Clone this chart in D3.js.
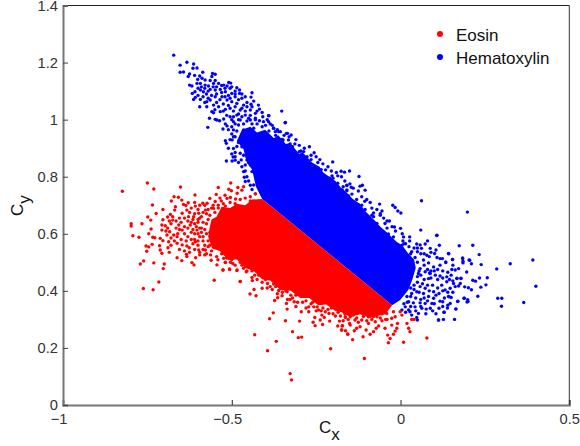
<!DOCTYPE html>
<html lang="en">
<head>
<meta charset="UTF-8">
<title>Eosin and Hematoxylin</title>
<script src="https://d3js.org/d3.v7.min.js"></script>
<style>
  body { margin: 0; background: #fff; }
  text { font-family: "Liberation Sans", Arial, sans-serif; }
</style>
</head>
<body>
<script>
var xTicks = [-1, -0.5, 0, 0.5];
var xTickLabels = ["\u22121", "\u22120.5", "0", "0.5"];
var yTicks = [0, 0.2, 0.4, 0.6, 0.8, 1, 1.2, 1.4];
var yTickLabels = ["0", "0.2", "0.4", "0.6", "0.8", "1", "1.2", "1.4"];
var seriesNames = ["Eosin", "Hematoxylin"];
var seriesColors = ["#ff0000", "#0000ff"];

// outline of the saturated part of each cloud, single dots can't be told apart in there
var hematoxylinCore = [[-.470,.965],[-.445,.975],[-.425,.955],[-.401,.965],[-.375,.935],[-.362,.945],[-.340,.915],[-.327,.918],[-.300,.880],[-.291,.887],[-.262,.850],[-.240,.835],[-.229,.815],[-.193,.785],[-.175,.760],[-.164,.750],[-.140,.720],[-.120,.705],[-.105,.680],[-.075,.645],[-.060,.625],[-.045,.610],[-.010,.570],[.005,.560],[.020,.535],[.040,.510],[.045,.480],[.035,.440],[.023,.403],[-.001,.368],[-.025,.350],[-.410,.722],[-.428,.764],[-.440,.825],[-.455,.850],[-.465,.895],[-.485,.925]];
var eosinCore = [[-.565,.625],[-.560,.650],[-.545,.660],[-.530,.695],[-.505,.690],[-.485,.705],[-.460,.700],[-.440,.720],[-.410,.722],[-.025,.350],[-.045,.318],[-.070,.312],[-.090,.305],[-.120,.318],[-.149,.308],[-.175,.325],[-.193,.329],[-.220,.352],[-.244,.350],[-.270,.375],[-.297,.375],[-.325,.400],[-.356,.403],[-.385,.435],[-.410,.441],[-.435,.470],[-.460,.480],[-.485,.510],[-.511,.508],[-.535,.540],[-.558,.548],[-.570,.590]];

// dots
var hematoxylinPoints = [
[-.672,1.226],[-.653,1.191],[-.633,1.201],[-.613,1.195],[-.615,1.180],[-.603,1.181],[-.653,1.166],[-.643,1.167],[-.586,1.166],[-.625,1.160],[-.610,1.155],[-.629,1.151],[-.557,1.162],[-.549,1.159],[-.559,1.151],[-.595,1.153],[-.601,1.141],[-.588,1.145],[-.579,1.139],[-.564,1.137],[-.549,1.137],[-.509,1.130],[-.503,1.128],[-.625,1.121],[-.618,1.118],[-.603,1.127],[-.593,1.127],[-.579,1.121],[-.569,1.118],[-.554,1.127],[-.539,1.127],[-.524,1.121],[-.514,1.118],[-.485,1.112],[-.505,1.110],[-.477,1.104],[-.440,1.094],[-.477,1.092],[-.443,1.079],[-.613,1.071],[-.608,1.078],[-.617,1.092],[-.609,1.098],[-.593,1.104],[-.584,1.098],[-.564,1.106],[-.549,1.104],[-.534,1.106],[-.519,1.098],[-.500,1.092],[-.490,1.080],[-.470,1.075],[-.593,1.071],[-.595,1.045],[-.574,1.063],[-.564,1.069],[-.549,1.080],[-.529,1.080],[-.514,1.069],[-.500,1.063],[-.485,1.057],[-.465,1.051],[-.443,1.054],[-.421,1.051],[-.418,1.037],[-.574,1.045],[-.554,1.051],[-.539,1.045],[-.559,1.028],[-.534,1.028],[-.519,1.036],[-.505,1.040],[-.475,1.034],[-.445,1.034],[-.430,1.022],[-.554,1.024],[-.566,1.005],[-.544,.999],[-.536,.996],[-.549,1.001],[-.524,1.002],[-.505,1.010],[-.485,1.016],[-.460,1.016],[-.408,1.010],[-.390,1.014],[-.352,1.030],[-.342,.989],[-.571,.973],[-.526,.967],[-.519,.985],[-.514,.978],[-.495,.993],[-.475,.999],[-.445,.999],[-.418,.996],[-.391,.993],[-.386,.985],[-.376,.970],[-.356,.958],[-.519,.926],[-.516,.917],[-.495,.899],[-.371,.958],[-.335,.952],[-.351,.931],[-.332,.929],[-.495,.964],[-.495,.940],[-.480,.981],[-.465,.964],[-.435,.970],[-.416,.952],[-.396,.940],[-.376,.929],
[-.516,.855],[-.499,.855],[-.490,.858],[-.496,.869],[-.465,.818],[-.463,.798],[-.460,.783],[-.427,.789],[-.435,.771],[-.440,.818],[-.430,.824],[-.472,.859],[-.455,.859],[-.341,.990],[-.338,.952],[-.324,.946],[-.327,.915],[-.313,.915],[-.325,.896],[-.300,.888],[-.287,.888],[-.256,.884],[-.292,.876],[-.277,.870],[-.239,.860],[-.201,.852],[-.262,.835],[-.243,.826],[-.222,.824],[-.176,.819],[-.166,.816],[-.151,.820],[-.203,.803],[-.186,.803],[-.210,.795],[-.186,.777],[-.159,.770],[-.208,.779],[-.233,.806],[-.238,.795],[-.173,.754],[-.159,.754],[-.183,.754],[-.198,.768],[-.154,.733],[-.348,.929],[-.361,.958],[-.376,.970],[-.406,.993],[-.391,1.014],[-.485,.906],[-.475,.882],[-.499,.929],[-.460,.841],[-.445,.841],
[.062,.716],[.198,.676],[.060,.613],[.107,.594],[-.123,.801],[-.159,.769],[-.146,.763],[-.120,.767],[-.113,.770],[-.105,.753],[-.159,.751],[-.144,.739],[-.106,.714],[-.141,.714],[-.062,.704],[-.023,.700],[-.016,.692],[-.008,.680],[.001,.673],[-.055,.680],[-.060,.665],[-.080,.673],[-.085,.665],[-.105,.685],[-.115,.700],[-.033,.645],[-.046,.636],[-.070,.636],[.000,.619],[-.018,.624],[-.036,.599],[-.021,.589],[.009,.589],[.027,.589],[.027,.575],[.007,.575],[.004,.560],[.048,.564],[.058,.561],[.080,.575],[.073,.564],[.062,.549],[.115,.560],[.174,.558],[.088,.549],[.105,.543],[.143,.530],[.203,.508],[.184,.513],[.154,.510],[.185,.498],[.117,.513],[.124,.513],[.134,.499],[.078,.525],[.050,.537],[.033,.537],[.101,.531],[.108,.517],[.043,.517],[.068,.508],[.083,.498],[.117,.490],[.098,.484],[.152,.475],[.162,.473],[.172,.478],[.196,.466],[.058,.478],[.073,.467],[.086,.463],[.103,.455],[.117,.452],[.167,.443],[.179,.443],[.137,.449],[.024,.513],[.038,.490],[.053,.461],[.083,.443],
[.134,.501],[.155,.490],[.179,.444],[.167,.444],[.157,.426],[.177,.426],[.137,.432],[.088,.461],[.122,.420],[.162,.415],[.147,.409],[.172,.417],[.132,.403],[.201,.411],[.098,.397],[.114,.391],[.073,.409],[.058,.415],[.048,.397],[.068,.391],[.083,.380],[.098,.374],[.142,.380],[.150,.377],[.125,.362],[.117,.364],[.169,.363],[.189,.374],[.200,.363],[.093,.356],[.073,.356],[.058,.358],[.038,.358],[.063,.339],[.088,.339],[.114,.339],[.164,.336],[.147,.356],[.043,.344],[.028,.327],[.053,.321],[.076,.336],[.129,.325],[.050,.298],[.112,.298],[.127,.300],[.160,.300],[.024,.362],[.014,.344],[.004,.333],[.033,.315],[.048,.307],[.019,.380],[.033,.391],[.024,.333],
[.392,.508],[.401,.416],[.365,.359],[.325,.495],[.285,.477],[.288,.374],[.300,.374],[.299,.346],[.257,.446],[.253,.421],[.238,.413],[.229,.381],[.239,.492],[.233,.527],[.214,.560],[.205,.507],[.210,.495],[.184,.515],[.185,.504],[.190,.414],[.210,.404],[.234,.445],[.214,.437],[.222,.434],[.199,.369],[.188,.374],[.197,.361],[.113,.298],[.164,.337],[.129,.325],[.139,.340],[.170,.364],[.145,.379],[.108,.595],[.142,.531],[.154,.510]
];
// thick parts along the rims of the blue cloud
var hematoxylinRim = [
[-.60,1.11],[-.59,1.115],[-.58,1.11],[-.57,1.10],[-.555,1.115],[-.545,1.115],[-.53,1.12],[-.52,1.11],[-.50,1.115],[-.49,1.10],[-.575,1.09],[-.56,1.085],[-.545,1.09],[-.53,1.095],[-.51,1.085],[-.49,1.09],[-.47,1.09],[-.46,1.08],[-.60,1.085],[-.585,1.08],[-.57,1.075],[-.535,1.07],[-.52,1.08],[-.505,1.075],[-.48,1.07],[-.455,1.06],[-.435,1.065],[-.58,1.06],[-.545,1.06],[-.525,1.055],[-.51,1.05],[-.49,1.045],[-.47,1.04],[-.455,1.045],[-.44,1.045],[-.425,1.03],[-.55,1.035],[-.525,1.03],[-.495,1.03],[-.48,1.02],[-.46,1.03],[-.445,1.015],[-.43,1.005],[-.41,1.025],[-.395,1.00],[-.515,1.015],[-.50,1.00],[-.51,.965],[-.50,.95],[-.505,.93],[-.40,.98],[-.38,.98],[-.365,.965],[-.345,.945],[-.33,.94],[-.31,.93],[-.30,.91],[-.285,.90],[-.27,.905],[-.265,.875],[-.25,.87],[-.245,.85],[-.23,.845],[-.215,.835],[-.205,.82],[-.19,.815],[-.175,.80],[-.165,.785],[-.15,.775],[-.14,.76],[-.125,.75],[-.115,.73],[-.10,.72],[-.09,.71],[-.085,.69],[-.07,.685],[-.06,.67],[-.05,.655],[-.04,.645],[-.025,.625],[-.015,.61],[.005,.60],[.015,.565],[.025,.555],[.04,.55],[.05,.55],[.06,.53],[.07,.53],[.085,.52],[.09,.535],
[-.51,.90],[-.50,.88],[-.49,.885],[-.49,.87],[-.48,.85],[-.47,.835],[-.46,.82],[-.455,.80],[-.45,.785],[-.445,.77],[-.44,.755],[-.43,.74],
[.07,.49],[.08,.475],[.09,.47],[.10,.47],[.11,.475],[.125,.47],[.14,.465],[.15,.455],[.06,.455],[.07,.44],[.09,.445],[.11,.44],[.125,.445],[.145,.44],[.155,.435],[.05,.43],[.065,.425],[.08,.42],[.095,.42],[.11,.41],[.125,.40],[.14,.395],[.155,.395],[.04,.405],[.055,.395],[.07,.375],[.085,.40],[.105,.385],[.03,.38],[.045,.375],[.06,.37],[.08,.365],[.10,.355],[.13,.375],[.14,.35],[.02,.36],[.03,.345],[.045,.33],[.06,.345],[.075,.32],[.01,.355],[.015,.325],[.095,.33],[.105,.32],[.125,.345],
[-.49,.985],[-.48,1.0],[-.465,.985],[-.455,.995],[-.44,.985],[-.425,.985],[-.41,.975],[-.39,.96],[-.45,1.005],[-.47,1.01],[-.43,1.0],[-.495,1.01],[-.50,.975],[-.485,.96],[-.49,.94],[-.48,.92],[-.47,.905],[-.465,.875],[-.455,.87],[-.45,.85],[-.37,.945],[-.35,.925],[-.32,.905],[-.295,.89],[-.265,.86],[-.235,.825],[-.20,.795],[-.17,.765],[-.13,.72],[-.08,.66],[-.04,.62],[.01,.565],[.03,.53],[.05,.50],[.055,.47],[.05,.45],[.04,.42],[.03,.41]
];
var eosinPoints = [
[-.824,.749],[-.750,.778],[-.731,.757],[-.652,.764],[-.609,.736],[-.540,.762],[-.503,.778],[-.509,.756],[-.501,.751],[-.482,.762],[-.465,.765],[-.470,.753],[-.484,.742],[-.546,.738],[-.671,.730],[-.658,.728],[-.679,.715],[-.648,.718],[-.629,.709],[-.643,.703],[-.636,.699],[-.608,.697],[-.667,.695],[-.704,.685],[-.669,.683],[-.724,.671],[-.735,.701],[-.749,.659],[-.740,.648],[-.682,.668],[-.690,.659],[-.704,.649],[-.675,.660],[-.675,.648],[-.647,.672],[-.633,.683],[-.766,.635],[-.798,.635],[-.798,.627],[-.739,.617],[-.746,.600],[-.793,.593],[-.775,.588],[-.734,.588],[-.728,.586],[-.707,.631],[-.697,.628],[-.707,.613],[-.684,.607],[-.692,.596],[-.712,.584],[-.704,.576],[-.672,.596],[-.657,.631],[-.647,.613],[-.662,.590],[-.687,.572],[-.736,.563],[-.754,.557],[-.746,.554],[-.752,.539],[-.714,.558],[-.712,.543],[-.707,.532],[-.689,.551],[-.685,.535],[-.662,.567],[-.647,.561],[-.633,.557],[-.626,.551],[-.662,.516],[-.648,.506],[-.634,.528],[-.633,.520],[-.607,.516],[-.595,.526],[-.618,.499],[-.612,.491],[-.580,.526],[-.561,.507],[-.541,.509],[-.544,.491],[-.526,.473],[-.507,.477],[-.504,.500],[-.484,.473],[-.465,.479],[-.771,.494],[-.761,.505],[-.731,.498],[-.700,.494],[-.703,.478],[-.716,.431],[-.552,.437],[-.475,.433],[-.762,.408],[-.733,.404],[-.524,.514],[-.519,.500],
[-.628,.660],[-.613,.660],[-.598,.672],[-.586,.707],[-.573,.707],[-.565,.724],[-.549,.713],[-.531,.715],[-.514,.724],[-.504,.727],[-.489,.722],[-.519,.697],[-.554,.689],[-.578,.683],[-.623,.631],[-.603,.613],[-.608,.572],[-.598,.543],[-.578,.543],[-.563,.526],[-.620,.640],[-.600,.640],[-.590,.660],[-.610,.600],[-.595,.590],[-.590,.620],[-.575,.670],[-.560,.690],[-.585,.575],[-.570,.555],[-.630,.620],[-.640,.600],[-.620,.580],[-.650,.640],[-.600,.560],
[-.526,.473],[-.519,.499],[-.506,.475],[-.497,.496],[-.485,.471],[-.475,.433],[-.457,.467],[-.439,.436],[-.440,.447],[-.432,.455],[-.434,.405],[-.446,.389],[-.428,.383],[-.410,.409],[-.394,.426],[-.373,.366],[-.364,.376],[-.361,.401],[-.351,.383],[-.338,.356],[-.336,.336],[-.377,.323],[-.388,.302],[-.341,.295],[-.299,.294],[-.294,.327],[-.272,.327],[-.320,.257],[-.432,.246],[-.368,.223],[-.303,.236],[-.293,.238],[-.394,.190],[-.207,.197],[-.327,.110],[-.323,.088],[-.315,.362],[-.305,.360],[-.327,.370],[-.325,.385],[-.297,.385],[-.386,.415],[-.376,.424],[-.336,.397],[-.272,.344],[-.257,.344],[-.254,.307],[-.259,.290],[-.253,.278],[-.231,.282],[-.238,.298],[-.210,.294],[-.181,.294],[-.186,.277],[-.173,.277],[-.175,.263],[-.163,.260],[-.156,.248],[-.226,.307],[-.212,.321],[-.193,.312],[-.178,.312],[-.163,.307],[-.151,.286],[-.233,.315],[-.243,.333],[-.223,.327],[-.247,.344],
[-.107,.163],[-.142,.229],[-.111,.239],[-.036,.218],[.009,.220],[.078,.235],[-.031,.233],[-.038,.245],[-.090,.248],[-.080,.257],[-.072,.269],[-.065,.277],[-.046,.269],[-.055,.295],[-.021,.248],[-.016,.259],[-.011,.269],[-.026,.280],[-.009,.286],[-.044,.300],[.019,.286],[.024,.269],[.028,.257],[.033,.300],[.040,.300],[.004,.315],[-.016,.309],[-.172,.278],[-.174,.263],[-.157,.249],[-.137,.260],[-.130,.269],[-.120,.274],[-.102,.263],[-.095,.286],[-.149,.280],[-.135,.298],[-.115,.298],[-.075,.292],[-.051,.333],[-.041,.321],[-.021,.327],[-.001,.327],[-.164,.309],[-.149,.309],[-.095,.309],[-.070,.309],[-.026,.304]
];
// thick parts along the rims of the red cloud
var eosinRim = [
[-.69,.62],[-.68,.635],[-.665,.62],[-.655,.615],[-.64,.625],[-.63,.645],[-.64,.655],[-.625,.675],[-.61,.67],[-.60,.685],[-.615,.65],[-.605,.625],[-.615,.615],[-.63,.59],[-.635,.575],[-.615,.565],[-.65,.58],[-.67,.575],[-.68,.56],[-.655,.545],[-.64,.54],[-.625,.535],[-.61,.545],[-.595,.535],[-.585,.545],[-.575,.53],[-.56,.54],[-.545,.52],[-.53,.53],[-.515,.515],[-.50,.51],[-.49,.49],[-.47,.49],[-.455,.47],[-.44,.47],[-.425,.44],[-.41,.43],[-.395,.41],[-.38,.405],[-.365,.39],[-.35,.395],[-.335,.37],[-.32,.375],[-.31,.345],[-.29,.36],[-.28,.34],[-.265,.355],[-.25,.33],[-.235,.33],[-.215,.335],[-.20,.32],[-.185,.325],[-.17,.295],[-.155,.30],[-.14,.315],[-.125,.29],[-.11,.31],[-.10,.295],[-.085,.30],[-.06,.305],[-.04,.30],
[-.595,.655],[-.585,.675],[-.57,.685],[-.555,.70],[-.54,.70],[-.525,.705],[-.535,.725],[-.52,.735],[-.505,.71],[-.49,.705],[-.475,.72],[-.46,.725],[-.445,.73],[-.43,.74],[-.445,.715],[-.58,.70],[-.595,.70],[-.61,.71],[-.62,.69],[-.655,.655],[-.665,.645],[-.685,.645],[-.695,.61],[-.68,.585],[-.66,.60],
[-.60,.65],[-.585,.64],[-.575,.635],[-.59,.605],[-.575,.60],[-.58,.615],[-.60,.575],[-.585,.59],[-.57,.575],[-.565,.56],[-.55,.555],[-.53,.55],[-.58,.56],[-.565,.665],[-.55,.675],[-.57,.65],[-.54,.69],[-.61,.635],[-.62,.605],[-.60,.60],[-.565,.605],[-.51,.525],[-.49,.52],[-.475,.50],[-.45,.495],[-.42,.455],[-.40,.44],[-.37,.415],[-.34,.40],[-.31,.385],[-.28,.365],[-.26,.36],[-.23,.34],[-.205,.34],[-.165,.32],[-.13,.305],[-.08,.31],[-.055,.32],[-.595,.62],[-.61,.58]
];

var width = 580;
var height = 446;
var svg = d3.select("body").append("svg").attr("width", width).attr("height", height);

var x = d3.scaleLinear().domain([-1, 0.5]).range([63, 569.3]);
var y = d3.scaleLinear().domain([0, 1.4]).range([405, 5.5]);

var outline = d3.line().x(function(d) { return x(d[0]); }).y(function(d) { return y(d[1]); }).curve(d3.curveLinearClosed);

function drawCloud(core, points, color) {
  svg.append("path").attr("d", outline(core)).attr("fill", color);
  svg.append("g").selectAll("circle").data(points).enter().append("circle")
    .attr("cx", function(d) { return x(d[0]); })
    .attr("cy", function(d) { return y(d[1]); })
    .attr("r", 1.7)
    .attr("fill", color);
}
drawCloud(hematoxylinCore, hematoxylinPoints.concat(hematoxylinRim), seriesColors[1]);
drawCloud(eosinCore, eosinPoints.concat(eosinRim), seriesColors[0]);

// box, top and right are thin, left and bottom come out heavier and grey
svg.append("line").attr("x1", x(-1)).attr("x2", x(0.5)).attr("y1", y(1.4)).attr("y2", y(1.4)).attr("stroke", "#222").attr("stroke-width", 1);
svg.append("line").attr("x1", x(0.5)).attr("x2", x(0.5)).attr("y1", y(1.4)).attr("y2", y(0)).attr("stroke", "#333").attr("stroke-width", 1);

var xAxis = d3.axisBottom(x).tickValues(xTicks).tickSize(-5).tickPadding(9)
  .tickFormat(function(d, i) { return xTickLabels[i]; });
var yAxis = d3.axisLeft(y).tickValues(yTicks).tickSize(-5).tickPadding(5)
  .tickFormat(function(d, i) { return yTickLabels[i]; });

var gx = svg.append("g").attr("transform", "translate(0," + y(0) + ")").call(xAxis);
var gy = svg.append("g").attr("transform", "translate(" + x(-1) + ",0)").call(yAxis);
gx.select(".domain").attr("stroke", "#777").attr("stroke-width", 2);
gy.select(".domain").attr("stroke", "#777").attr("stroke-width", 2);
gx.selectAll(".tick line").attr("stroke", "#222");
gy.selectAll(".tick line").attr("stroke", "#444");
gx.selectAll("text").attr("font-size", 14.7).attr("fill", "#333")
  .attr("dx", function(d) { return d < 0 ? -4.5 : 0; });
gy.selectAll("text").attr("font-size", 14.7).attr("fill", "#333");

// axis labels with subscripts
var xLabel = svg.append("text").attr("x", 319).attr("y", 433).attr("font-size", 17).attr("fill", "#111");
xLabel.append("tspan").text("C");
xLabel.append("tspan").attr("dy", 7).text("x");

var yLabel = svg.append("text").attr("transform", "translate(23,216) rotate(-90)").attr("font-size", 17).attr("fill", "#111");
yLabel.append("tspan").text("C");
yLabel.append("tspan").attr("dy", 7).text("y");

// legend
var legend = svg.append("g").selectAll("g").data(seriesNames).enter().append("g")
  .attr("transform", function(d, i) { return "translate(440," + (34 + i * 23) + ")"; });
legend.append("circle").attr("r", 3).attr("fill", function(d, i) { return seriesColors[i]; });
legend.append("text").attr("x", 16).attr("y", 6.5).attr("font-size", 17).attr("fill", "#111").text(function(d) { return d; });
</script>
</body>
</html>
